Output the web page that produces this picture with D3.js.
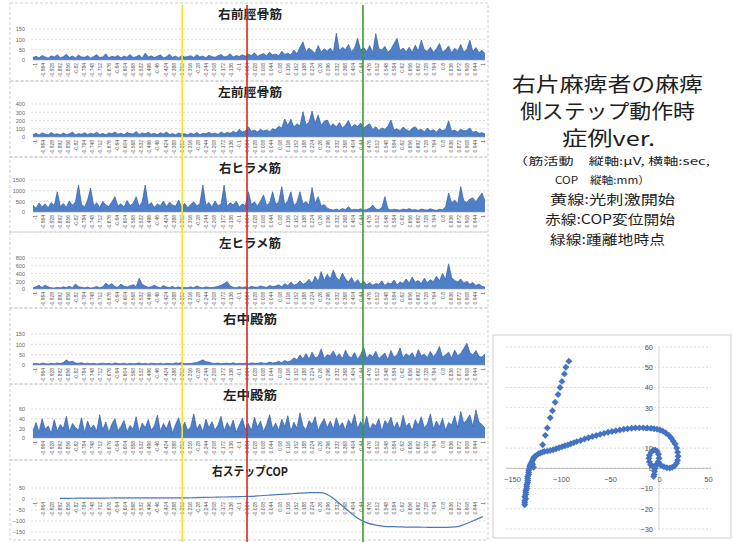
<!DOCTYPE html>
<html>
<head>
<meta charset="utf-8">
<script src="https://cdn.jsdelivr.net/npm/d3@7"></script>
<style>
  html, body { margin: 0; padding: 0; background: #fff; }
  svg { display: block; font-family: "Noto Sans CJK JP", "Noto Sans", sans-serif; }
</style>
</head>
<body>
<svg id="chart" width="733" height="542"></svg>
<script>
// ---------- data ----------
const panelTitles = ["右前脛骨筋", "左前脛骨筋", "右ヒラメ筋", "左ヒラメ筋", "右中殿筋", "左中殿筋", "右ステップCOP"];

const yTicksTA_R  = [0, 50, 100, 150];
const yTicksTA_L  = [0, 100, 200, 300, 400];
const yTicksSol_R = [0, 500, 1000, 1500];
const yTicksSol_L = [0, 200, 400, 600, 800];
const yTicksGM_R  = [0, 50, 100, 150];
const yTicksGM_L  = [0, 20, 40, 60];
const yTicksCOP   = [-150, -100, -50, 0, 50];

// time axis labels (sec)
const timeLabels = ["-1","-0.964","-0.928","-0.892","-0.856","-0.82","-0.784","-0.748","-0.712","-0.676",
  "-0.64","-0.604","-0.568","-0.532","-0.496","-0.46","-0.424","-0.388","-0.352","-0.316",
  "-0.28","-0.244","-0.208","-0.172","-0.136","-0.1","-0.064","-0.028","0.008","0.044",
  "0.08","0.116","0.152","0.188","0.224","0.26","0.296","0.332","0.368","0.404",
  "0.44","0.476","0.512","0.548","0.584","0.62","0.656","0.692","0.728","0.764",
  "0.8","0.836","0.872","0.908","0.944","1"];

// 右前脛骨筋 (µV)
const emgTA_R = [
  12,18,10,22,15,9,20,14,25,11, 16,28,12,19,10,24,15,13,21,9,
  17,26,12,15,30,11,18,14,22,10, 19,13,27,12,16,24,10,33,15,20,
  12,18,25,11,16,28,13,19,10,22, 14,17,21,12,26,15,19,11,23,16,
  13,20,27,15,18,30,14,22,17,25, 19,28,22,35,18,26,31,20,38,24,
  29,21,42,27,33,25,48,30,62,88, 40,58,45,32,70,38,55,42,58,36,
  130,44,62,50,75,39,58,105,47,60, 41,70,35,128,55,48,66,38,52,79,
  105,45,58,40,62,36,72,44,96,50, 42,62,37,55,80,39,48,68,35,57,
  44,75,38,52,96,41,60,36,47,30];

// 左前脛骨筋 (µV)
const emgTA_L = [
  30,45,25,50,35,28,55,32,40,26, 48,30,38,60,27,42,33,52,29,45,
  36,58,31,44,27,50,39,62,34,47, 28,55,41,35,66,30,49,38,57,33,
  45,29,52,37,60,31,43,27,50,35, 40,26,48,33,55,30,44,38,58,36,
  47,32,62,40,55,45,70,50,95,60, 75,125,70,85,60,95,72,88,65,100,
  90,130,110,218,140,215,120,160,135,307, 150,180,314,170,267,140,190,206,130,160,
  120,175,110,145,200,115,155,125,170,105, 140,160,90,125,80,110,95,130,206,85,
  100,75,120,90,70,105,125,80,95,65, 110,72,88,60,100,78,92,194,70,85,
  62,95,75,80,109,58,70,45,52,38];

// 右ヒラメ筋 (µV)
const emgSol_R = [
  320,180,420,250,380,200,450,300,950,260, 400,220,520,310,480,1267,350,240,560,1120,
  290,430,210,500,330,260,470,720,280,390, 230,540,300,410,720,260,480,1267,320,440,
  210,380,290,520,250,460,330,270,560,240, 410,200,350,480,280,390,1267,310,450,230,
  520,290,370,1267,260,440,330,500,240,380, 300,950,350,480,270,520,800,310,430,950,
  360,470,1190,330,540,950,300,450,950,380, 490,320,1150,400,720,280,350,180,120,90,
  140,80,160,110,250,90,130,100,150,85, 120,170,330,140,110,200,720,150,95,130,
  110,80,140,100,160,90,120,75,135,105, 90,150,100,80,130,110,240,890,420,560,
  380,1190,520,450,610,660,480,700,890,520];

// 左ヒラメ筋 (µV)
const emgSol_L = [
  30,60,95,40,100,55,35,25,45,30, 55,40,70,35,130,60,45,30,50,25,
  40,65,35,55,150,90,140,60,45,130, 70,50,85,110,60,280,120,75,45,60,
  100,55,35,90,50,40,65,30,55,25, 40,30,60,35,80,45,30,55,40,35,
  50,70,95,140,190,80,45,35,60,40, 55,35,70,50,45,80,60,40,90,65,
  75,110,60,140,85,180,100,130,210,120, 160,250,140,330,190,450,220,380,260,490,
  300,220,410,260,180,300,150,240,130,200, 110,170,95,140,120,210,90,160,130,230,
  110,180,140,260,150,310,170,220,140,280, 160,240,190,330,210,400,250,650,300,220,
  180,260,150,200,120,170,90,130,70,50];

// 右中殿筋 (µV)
const emgGM_R = [
  6,8,5,9,7,5,8,6,10,7, 12,24,15,18,10,8,11,7,9,6,
  8,5,7,9,6,8,5,10,7,6, 9,5,8,6,7,10,6,8,5,9,
  7,6,9,5,8,7,6,10,8,12, 6,8,7,10,12,18,25,16,14,9,
  7,10,6,8,9,7,11,6,8,7, 9,6,10,8,7,12,9,8,14,10,
  12,18,11,22,15,20,35,25,48,30, 55,28,62,35,40,78,32,50,45,68,
  38,55,30,72,42,35,60,28,48,85, 33,52,40,66,30,45,58,25,70,38,
  48,82,35,55,42,60,30,75,45,52, 36,65,40,58,90,38,50,62,34,72,
  45,56,80,105,60,48,70,42,38,55];

// 左中殿筋 (µV)
const emgGM_L = [
  15,32,12,40,18,25,10,38,14,28, 20,45,13,30,22,16,42,11,35,19,
  27,14,48,17,33,12,29,40,15,24, 36,13,26,18,44,12,31,21,38,16,
  25,47,14,30,19,36,11,28,42,17, 33,15,24,50,18,29,13,39,21,34,
  16,27,45,14,32,20,37,12,26,41, 18,30,15,43,22,35,13,28,48,19,
  31,16,39,24,46,14,33,20,52,25, 17,36,28,44,15,30,40,21,35,18,
  42,23,32,16,38,27,49,19,34,22, 45,17,30,25,40,14,36,28,43,20,
  33,18,47,24,31,15,38,26,44,21, 29,50,19,35,23,41,16,32,27,46,
  22,55,30,38,48,24,58,33,28,20];

// 右ステップ COP (mm), sampled from t = -0.88 s to t = 0.99 s
const copStep = [
  3,3,4,4,4,4,5,5,5,5, 5,5,5,5,5,6,7,8,9,10,
  11,12,14,17,20,22,25,27,29,29, 14,-18,-52,-85,-106,-118,-124,-126,-127,-128,
  -128,-129,-129,-129,-127,-115,-98,-80];
const copStartTime = -0.88;
const copEndTime = 0.99;

// event markers (sec)
const markerTimes  = [-0.34, -0.053, 0.46];
const markerNames  = ["光刺激開始", "COP変位開始", "踵離地時点"];

// COP trajectory (x mm, y mm)
const copTrackX = [
  -137,-137,-137,-136,-137,-136,-136,-136,-135,-135,-135,-134,-134,-134,-134,-133,-133,-133,-132,-132,
  -131,-130,-129,-128,-127,-125,-123,-121,-119,-128,-129,
  -117,-114,-111,-108,-105,-102,-99,-96,-93,-90,-87,-84,-80,-76,-72,-68,-64,-60,-56,-52,
  -48,-44,-40,-36,-32,-28,-24,-20,-16,-12,-8,-5,-2,1,4,7,10,12.5,14.5,16.5,
  18,19,19.5,19,18,16,13.5,11,8,5,2,0,
  0,-0.5,-2,-4,-6,-8,-9.8,-10.3,-9.8,-8.5,-6.5,-4.5,-2.5,-1,
  -4,-4.5,-5,-5.5,
  -118.7,-116,-114,-111,-108.7,-106,-103,-101,-99,-96.5,-95,-92];
const copTrackY = [
  -18,-17,-16,-15,-14,-13,-12,-11,-10,-9,-8,-7,-6,-5,-4,-3,-2,-1,0,1,
  2,3,4,5,5.8,6.5,7.2,7.6,8,0.5,2,
  8.3,8.5,8.8,9.2,9.7,10.2,10.7,11.2,11.6,12.2,12.7,13.2,13.8,14.5,15.1,15.7,16.2,16.8,17.3,17.8,
  18.2,18.6,19,19.3,19.6,19.8,20,20,20,20,19.8,19.6,19.3,19,18.4,17.5,16.3,15,13.5,12,
  10,8,6,4,2.5,1.3,0.5,0.2,0.3,0.8,1.5,2.5,
  5,7,8.5,9.1,9,8,6.5,5,3.2,1.8,1,1,1.8,3.2,
  0,-1.5,-3,-4,
  11.7,16.3,20,25,28.5,32.7,36.5,40,43,46.7,50,53];
const copTrackXTicks = [-150, -100, -50, 0, 50];
const copTrackYTicks = [-30, -20, -10, 0, 10, 20, 30, 40, 50, 60];

const infoLines = [
  "右片麻痺者の麻痺",
  "側ステップ動作時",
  "症例ver.",
  "（筋活動　縦軸:μV, 横軸:sec,",
  "COP　縦軸:mm）",
  "黄線:光刺激開始",
  "赤線:COP変位開始",
  "緑線:踵離地時点"
];

// ---------- drawing ----------
const svg = d3.select("#chart");
const BLUE_FILL = "#4f7fc6";
const BLUE_LINE = "#2f60b0";
const GRID = "#cfcfcf";
const plainNum = d3.format("d");

const plotLeft = 33, plotRight = 485;
const xTime = d3.scaleLinear().domain([-1, 1]).range([plotLeft, plotRight]);
const xLabels = d3.scalePoint().domain(timeLabels).range([35, 483]);

const panels = [
  { title: panelTitles[0], data: emgTA_R,  ticks: yTicksTA_R,  top: 3,   bottom: 81,  base: 60,  yTop: 29,  tw: 64 },
  { title: panelTitles[1], data: emgTA_L,  ticks: yTicksTA_L,  top: 81,  bottom: 157, base: 137, yTop: 104, tw: 64 },
  { title: panelTitles[2], data: emgSol_R, ticks: yTicksSol_R, top: 157, bottom: 232, base: 212, yTop: 180, tw: 62 },
  { title: panelTitles[3], data: emgSol_L, ticks: yTicksSol_L, top: 232, bottom: 308, base: 289, yTop: 258, tw: 62 },
  { title: panelTitles[4], data: emgGM_R,  ticks: yTicksGM_R,  top: 308, bottom: 384, base: 365, yTop: 334, tw: 54 },
  { title: panelTitles[5], data: emgGM_L,  ticks: yTicksGM_L,  top: 384, bottom: 460, base: 438, yTop: 409, tw: 54 }
];

function frame(top, bottom) {
  svg.append("rect")
    .attr("x", 10).attr("y", top).attr("width", 478).attr("height", bottom - top)
    .attr("fill", "none").attr("stroke", "#c4c4c4").attr("stroke-width", 0.8)
    .attr("stroke-dasharray", "3,2");
}

function title(text, y, tw) {
  svg.append("text")
    .attr("x", 250).attr("y", y)
    .attr("text-anchor", "middle")
    .attr("font-size", 12).attr("font-weight", "bold").attr("fill", "#222")
    .attr("textLength", tw).attr("lengthAdjust", "spacingAndGlyphs")
    .text(text);
}

function grid(y, ticks) {
  svg.append("g").selectAll("line").data(ticks).join("line")
    .attr("x1", plotLeft - 2).attr("x2", plotRight)
    .attr("y1", d => y(d)).attr("y2", d => y(d))
    .attr("stroke", GRID).attr("stroke-width", 0.7).attr("stroke-dasharray", "2,2");
}

function yAxis(y, ticks) {
  const g = svg.append("g").attr("transform", `translate(${plotLeft},0)`)
    .call(d3.axisLeft(y).tickValues(ticks).tickFormat(plainNum).tickSize(0).tickPadding(8));
  g.select(".domain").remove();
  g.selectAll("text").attr("font-size", 5.5).attr("fill", "#666").attr("font-family", "Liberation Sans, sans-serif");
}

function xAxis(yPos) {
  const g = svg.append("g").attr("transform", `translate(0,${yPos})`)
    .call(d3.axisBottom(xLabels).tickSize(0));
  g.select(".domain").remove();
  g.selectAll("text")
    .attr("transform", "rotate(-90)")
    .attr("x", -3).attr("y", 0).attr("dy", "0.35em")
    .attr("text-anchor", "end")
    .attr("font-size", 5).attr("fill", "#555")
    .attr("font-family", "Liberation Sans, sans-serif");
}

const sampleTime = (i, n) => -1 + 2 * i / (n - 1);

panels.forEach(p => {
  frame(p.top, p.bottom);
  const y = d3.scaleLinear().domain([0, d3.max(p.ticks)]).range([p.base, p.yTop]);
  grid(y, p.ticks.filter(t => t !== 0));
  yAxis(y, p.ticks);
  title(p.title, p.top + 16, p.tw);

  const area = d3.area()
    .x((d, i) => xTime(sampleTime(i, p.data.length)))
    .y0(y(0)).y1(d => y(d));
  const line = d3.line()
    .x((d, i) => xTime(sampleTime(i, p.data.length)))
    .y(d => y(d));
  svg.append("path").datum(p.data).attr("d", area).attr("fill", BLUE_FILL);
  svg.append("path").datum(p.data).attr("d", line)
    .attr("fill", "none").attr("stroke", BLUE_LINE).attr("stroke-width", 0.7);
  svg.append("line").attr("x1", plotLeft).attr("x2", plotRight)
    .attr("y1", y(0)).attr("y2", y(0)).attr("stroke", "#9a9a9a").attr("stroke-width", 0.6);
  xAxis(y(0));
});

// COP time series panel
{
  const top = 460, bottom = 540;
  frame(top, bottom);
  const y = d3.scaleLinear().domain([-150, 50]).range([532, 488]);
  grid(y, yTicksCOP);
  yAxis(y, yTicksCOP);
  title(panelTitles[6], top + 16, 76);
  const xc = d3.scaleLinear().domain([0, copStep.length - 1])
    .range([xTime(copStartTime), xTime(copEndTime)]);
  xAxis(y(0));
  svg.append("path").datum(copStep)
    .attr("d", d3.line().x((d, i) => xc(i)).y(d => y(d)).curve(d3.curveMonotoneX))
    .attr("fill", "none").attr("stroke", "#4a78c0").attr("stroke-width", 1.2);
}

// event marker lines across all panels
const markerColors = ["#f3e81c", "#e3261d", "#3e9a36"];
svg.append("g").selectAll("line").data(markerTimes).join("line")
  .attr("x1", d => xTime(d)).attr("x2", d => xTime(d))
  .attr("y1", 5).attr("y2", 542)
  .attr("stroke", (d, i) => markerColors[i]).attr("stroke-width", 1.6)
  .append("title").text((d, i) => markerNames[i]);

// description text
const infoLayout = [
  { x: 607.5, y: 92,  size: 20, w: 191 },
  { x: 607.5, y: 119, size: 20, w: 175 },
  { x: 608.5, y: 146, size: 20, w: 93 },
  { x: 611.5, y: 165, size: 10.5, w: 197 },
  { x: 602.5, y: 184, size: 10.5, w: 95 },
  { x: 612.5, y: 204, size: 13, w: 125 },
  { x: 610,   y: 224, size: 13, w: 130 },
  { x: 607.5, y: 244, size: 13, w: 115 }
];
svg.append("g").selectAll("text").data(infoLines).join("text")
  .attr("x", (d, i) => infoLayout[i].x)
  .attr("y", (d, i) => infoLayout[i].y)
  .attr("font-size", (d, i) => infoLayout[i].size)
  .attr("text-anchor", "middle")
  .attr("fill", "#1e1e1e")
  .attr("textLength", (d, i) => infoLayout[i].w)
  .attr("lengthAdjust", "spacingAndGlyphs")
  .text(d => d);

// COP trajectory scatter
{
  svg.append("rect").attr("x", 493).attr("y", 335).attr("width", 238).attr("height", 203)
    .attr("fill", "#fff").attr("stroke", "#c2c2c2").attr("stroke-width", 0.8);
  const sx = d3.scaleLinear().domain([-150, 50]).range([512, 708]);
  const sy = d3.scaleLinear().domain([-30, 60]).range([529, 347]);

  svg.append("g").selectAll("line").data(copTrackYTicks).join("line")
    .attr("x1", 506).attr("x2", 711)
    .attr("y1", d => sy(d)).attr("y2", d => sy(d))
    .attr("stroke", GRID).attr("stroke-width", 0.7).attr("stroke-dasharray", "2,2");
  svg.append("line").attr("x1", sx(0)).attr("x2", sx(0)).attr("y1", sy(60)).attr("y2", sy(-30))
    .attr("stroke", "#c8c8c8").attr("stroke-width", 0.8);
  svg.append("line").attr("x1", 506).attr("x2", 711).attr("y1", sy(0)).attr("y2", sy(0))
    .attr("stroke", "#b0b0b0").attr("stroke-width", 0.8);

  const ax = svg.append("g").attr("transform", `translate(0,${sy(0)})`)
    .call(d3.axisBottom(sx).tickValues(copTrackXTicks).tickSize(0).tickPadding(8));
  ax.select(".domain").remove();
  ax.selectAll("text").attr("font-size", 7.5).attr("fill", "#555").attr("font-family", "Liberation Sans, sans-serif");

  const ay = svg.append("g").attr("transform", `translate(${sx(0)},0)`)
    .call(d3.axisLeft(sy).tickValues(copTrackYTicks).tickSize(0).tickPadding(6));
  ay.select(".domain").remove();
  ay.selectAll("text").attr("font-size", 7.5).attr("fill", "#555").attr("font-family", "Liberation Sans, sans-serif");

  const sym = d3.symbol(d3.symbolSquare, 24);
  svg.append("g").selectAll("path").data(copTrackX.map((x, i) => [x, copTrackY[i]])).join("path")
    .attr("d", sym)
    .attr("transform", d => `translate(${sx(d[0])},${sy(d[1])}) rotate(45)`)
    .attr("fill", "#4472c4");
}
</script>
</body>
</html>
